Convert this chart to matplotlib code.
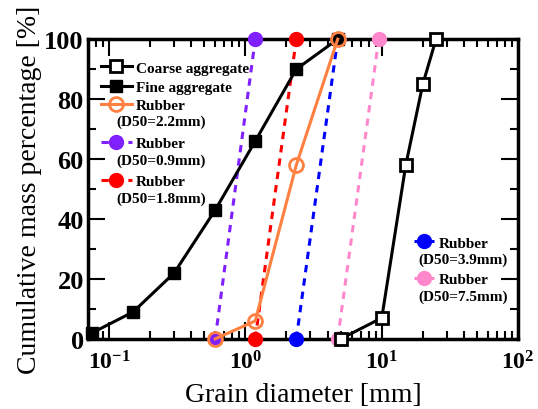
import matplotlib
matplotlib.use("Agg")
import matplotlib.pyplot as plt
from matplotlib.ticker import LogLocator, MultipleLocator, NullFormatter

plt.rcParams['font.family'] = ['Liberation Serif', 'DejaVu Serif']
plt.rcParams['mathtext.fontset'] = 'custom'
plt.rcParams['mathtext.rm'] = 'Liberation Serif'
plt.rcParams['mathtext.bf'] = 'Liberation Serif:bold'

coarse_x = [5, 10, 15, 20, 25]
coarse_y = [0, 7, 58, 85, 100]
fine_x = [0.075, 0.15, 0.3, 0.6, 1.18, 2.36, 4.75]
fine_y = [2, 9, 22, 43, 66, 90, 100]
r22_x = [0.6, 1.18, 2.36, 4.75]
r22_y = [0, 6, 58, 100]
r09_x = [0.6, 1.18]
r09_y = [0, 100]
r18_x = [1.18, 2.36]
r18_y = [0, 100]
r39_x = [2.36, 4.75]
r39_y = [0, 100]
r75_x = [4.75, 9.5]
r75_y = [0, 100]
xtick_vals = [0.1, 1, 10, 100]
xtick_labels = [r'$\mathbf{10^{-1}}$', r'$\mathbf{10^{0}}$', r'$\mathbf{10^{1}}$', r'$\mathbf{10^{2}}$']
rubber_subs1 = ['(D50=2.2mm)', '(D50=0.9mm)', '(D50=1.8mm)']
rubber_subs2 = ['(D50=3.9mm)', '(D50=7.5mm)']

fig = plt.figure(figsize=(5.38, 4.10), dpi=100)
ax = fig.add_axes([0.1636, 0.171, 0.7994, 0.731])

lw = 2.2
h_coarse, = ax.plot(coarse_x, coarse_y, '-', color='black', lw=lw, marker='s', ms=9,
                    mfc='white', mec='black', mew=2, clip_on=False, zorder=5, label='Coarse aggregate')
h_fine, = ax.plot(fine_x, fine_y, '-', color='black', lw=lw, marker='s', ms=9,
                  mfc='black', mec='black', clip_on=False, zorder=5, label='Fine aggregate')
h22, = ax.plot(r22_x, r22_y, '-', color='#ff8040', lw=lw, marker='o', ms=10,
               mfc='none', mec='#ff8040', mew=2, clip_on=False, zorder=6, label='Rubber')
dash = (0, (2.4, 2.0))
h09, = ax.plot(r09_x, r09_y, linestyle=dash, color='#8020ff', lw=lw, marker='o', ms=10,
               mfc='#8020ff', mec='#8020ff', clip_on=False, zorder=4, label='Rubber')
h18, = ax.plot(r18_x, r18_y, linestyle=dash, color='#ff0000', lw=lw, marker='o', ms=10,
               mfc='#ff0000', mec='#ff0000', clip_on=False, zorder=4, label='Rubber')
h39, = ax.plot(r39_x, r39_y, linestyle=dash, color='#0000ff', lw=lw, marker='o', ms=10,
               mfc='#0000ff', mec='#0000ff', clip_on=False, zorder=4, label='Rubber')
h75, = ax.plot(r75_x, r75_y, linestyle=dash, color='#ff88cc', lw=lw, marker='o', ms=10,
               mfc='#ff88cc', mec='#ff88cc', clip_on=False, zorder=4, label='Rubber')

ax.set_xscale('log')
ax.set_xticks(xtick_vals)
ax.set_xticklabels(xtick_labels)
ax.xaxis.set_minor_locator(LogLocator(base=10, subs=range(2, 10), numticks=20))
ax.xaxis.set_minor_formatter(NullFormatter())
ax.set_xlim(0.07, 100)
ax.set_ylim(0, 100)
ax.yaxis.set_major_locator(MultipleLocator(20))
ax.yaxis.set_minor_locator(MultipleLocator(10))

ax.tick_params(which='both', direction='in', top=True, right=True, width=1.5)
ax.tick_params(which='major', length=12)
ax.tick_params(which='minor', length=6)
ax.tick_params(axis='x', which='major', labelsize=17, pad=8)
ax.tick_params(axis='y', which='major', labelsize=19, pad=3)
for lab in ax.get_yticklabels():
    lab.set_fontweight('bold')
for s in ax.spines.values():
    s.set_linewidth(2.5)

ax.set_xlabel('Grain diameter [mm]', fontsize=20, labelpad=6)
ax.set_ylabel('Cumulative mass percentage [%]', fontsize=20, labelpad=2)

legprop = {'family': 'Liberation Serif', 'weight': 'bold', 'size': 11}
common = dict(frameon=False, prop=legprop, handletextpad=0.3, borderpad=0.0, borderaxespad=0.0)

W, H = fig.bbox.width, fig.bbox.height

leg1a = ax.legend(handles=[h_coarse, h_fine], loc='upper left',
                  bbox_to_anchor=(101 / W, 1 - 62 / H), bbox_transform=fig.transFigure,
                  handlelength=2.0, labelspacing=0.38, **common)
ax.add_artist(leg1a)
fig.canvas.draw()
bb1a = leg1a.get_window_extent()
leg1b = ax.legend(handles=[h22, h09, h18], loc='upper left',
                  bbox_to_anchor=(bb1a.x0 / W, (bb1a.y0 - 4) / H), bbox_transform=fig.transFigure,
                  handlelength=2.0, labelspacing=1.6, **common)
ax.add_artist(leg1b)
leg2 = ax.legend(handles=[h39, h75], loc='upper left',
                 bbox_to_anchor=(414 / W, 1 - 237 / H), bbox_transform=fig.transFigure,
                 handlelength=1.3, labelspacing=1.5, **common)

fig.canvas.draw()
inv = fig.transFigure.inverted()
line_h = 15.5
for leg, subs in [(leg1b, rubber_subs1), (leg2, rubber_subs2)]:
    for txt, sub in zip(leg.get_texts(), subs):
        bb = txt.get_window_extent()
        cx, by = inv.transform(((bb.x0 + bb.x1) / 2.0, bb.y0 - line_h - 1))
        fig.text(cx, by, sub, ha='center', va='bottom', fontfamily='Liberation Serif',
                 fontweight='bold', fontsize=11)

fig.savefig('out.png', dpi=100)
